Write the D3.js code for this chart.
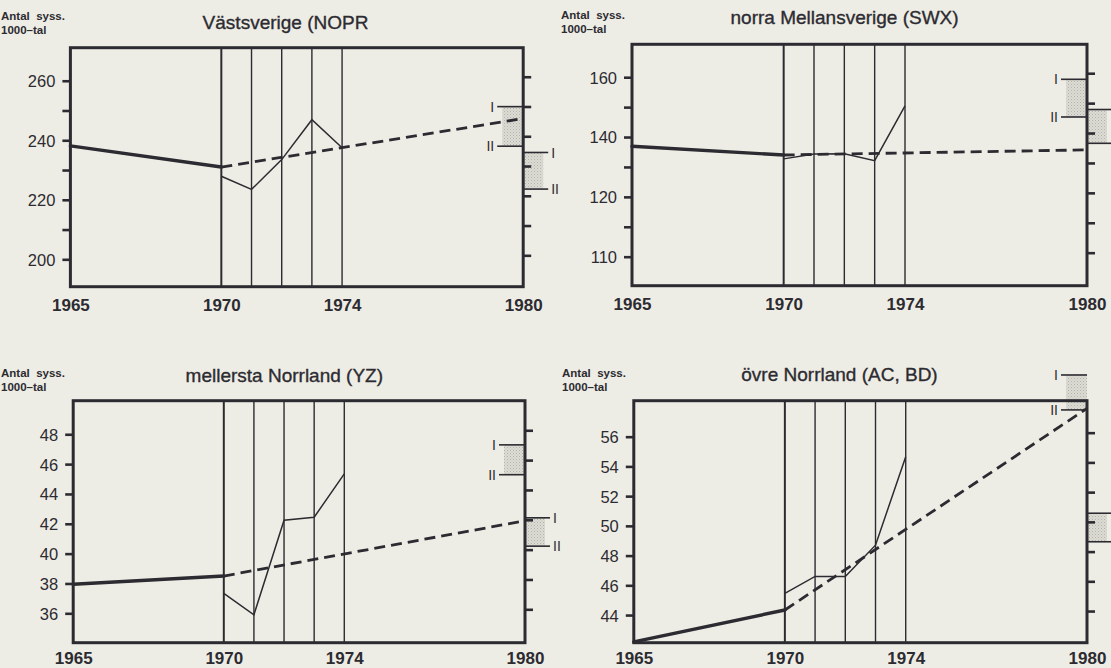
<!DOCTYPE html>
<html><head><meta charset="utf-8">
<script src="https://cdn.jsdelivr.net/npm/d3@7"></script>
<style>
html,body{margin:0;padding:0;background:#eeede5;}
svg{display:block;}
</style></head><body>
<svg id="chart" width="1111" height="668"></svg>
<script>
// ---------- DATA ----------
const regionTitles = ["Västsverige (NOPR", "norra Mellansverige (SWX)", "mellersta Norrland (YZ)", "övre Norrland (AC, BD)"];
const histYears = [1965, 1970];          // thick solid line
const projYears = [1970, 1980];          // dashed projection
const annualYears = [1970, 1971, 1972, 1973, 1974]; // thin line
const gridYears = [1970, 1971, 1972, 1973, 1974];
const xTickYears = [1965, 1970, 1974, 1980];
const unitLine1 = "Antal  syss.";
const unitLine2 = "1000–tal";

// Västsverige (NOPR)
const histNOPR = [238.1, 231.0];
const projNOPR = [231.0, 247.3];
const annualNOPR = [227.9, 223.5, 233.5, 246.9, 237.5];
const innerNOPR = [251.3, 238.0];   // I, II (left of right axis)
const outerNOPR = [235.9, 223.6];   // I, II (right of right axis)
const ticksNOPR = [200, 210, 220, 230, 240, 250, 260];
const labelValsNOPR = [200, 220, 240, 260];
const labelsNOPR = ["200", "220", "240", "260"];

// norra Mellansverige (SWX)
const histSWX = [136.9, 134.0];
const projSWX = [134.0, 135.7];
const annualSWX = [132.7, 134.3, 134.4, 132.1, 150.4];
const innerSWX = [159.3, 146.7];
const outerSWX = [149.2, 137.9];
const ticksSWX = [100, 110, 120, 130, 140, 150, 160];
const labelValsSWX = [100, 120, 140, 160];
const labelsSWX = ["110", "120", "140", "160"];

// mellersta Norrland (YZ)
const histYZ = [37.95, 38.5];
const projYZ = [38.5, 42.2];
const annualYZ = [37.33, 35.9, 42.24, 42.44, 45.35];
const innerYZ = [47.29, 45.29];
const outerYZ = [42.4, 40.5];
const ticksYZ = [36, 38, 40, 42, 44, 46, 48];
const labelValsYZ = [36, 38, 40, 42, 44, 46, 48];
const labelsYZ = ["36", "38", "40", "42", "44", "46", "48"];

// övre Norrland (AC, BD)
const histACBD = [42.2, 44.34];
const projACBD = [44.34, 57.9];
const annualACBD = [45.46, 46.6, 46.6, 48.7, 54.65];
const innerACBD = [60.15, 57.8];
const outerACBD = [50.85, 48.93];
const ticksACBD = [44, 46, 48, 50, 52, 54, 56];
const labelValsACBD = [44, 46, 48, 50, 52, 54, 56];
const labelsACBD = ["44", "46", "48", "50", "52", "54", "56"];

// ---------- LAYOUT ----------
const layouts = [
  {left: 70.4, right: 523.2, top: 47.7, bottom: 286.7, yMin: 190.8, yMax: 271.1, titleX: 285.5, titleY: 28.5, unitX: 1, unitY: 20, yearY: 311},
  {left: 632, right: 1087, top: 44.3, bottom: 285.7, yMin: 90.3, yMax: 171.0, titleX: 844.6, titleY: 24, unitX: 561, unitY: 19, yearY: 310},
  {left: 73.2, right: 525, top: 400.7, bottom: 642.7, yMin: 34.03, yMax: 50.25, titleX: 284.3, titleY: 381.5, unitX: 1, unitY: 377, yearY: 663.5},
  {left: 633.8, right: 1087, top: 400.7, bottom: 642.7, yMin: 42.14, yMax: 58.42, titleX: 839.5, titleY: 380.7, unitX: 562, unitY: 377, yearY: 663.5}
];

const panels = [
  {hist: histNOPR, proj: projNOPR, annual: annualNOPR, inner: innerNOPR, outer: outerNOPR, ticks: ticksNOPR, lv: labelValsNOPR, lt: labelsNOPR},
  {hist: histSWX, proj: projSWX, annual: annualSWX, inner: innerSWX, outer: outerSWX, ticks: ticksSWX, lv: labelValsSWX, lt: labelsSWX},
  {hist: histYZ, proj: projYZ, annual: annualYZ, inner: innerYZ, outer: outerYZ, ticks: ticksYZ, lv: labelValsYZ, lt: labelsYZ},
  {hist: histACBD, proj: projACBD, annual: annualACBD, inner: innerACBD, outer: outerACBD, ticks: ticksACBD, lv: labelValsACBD, lt: labelsACBD}
];

const INK = "#2c2b31";
const FONT = "'Liberation Sans', Arial, Helvetica, sans-serif";
const W = 1111;

const svg = d3.select("#chart");
const defs = svg.append("defs");
const pat = defs.append("pattern").attr("id", "stipple").attr("patternUnits", "userSpaceOnUse")
  .attr("width", 3).attr("height", 3);
pat.append("rect").attr("width", 3).attr("height", 3).attr("fill", "#dddcd4");
pat.append("rect").attr("x", 0).attr("y", 0).attr("width", 1).attr("height", 1).attr("fill", "#b4b3ab");
pat.append("rect").attr("x", 1.5).attr("y", 1.5).attr("width", 1).attr("height", 1).attr("fill", "#c2c1b9");

panels.forEach((p, i) => {
  const L = layouts[i];
  const x = d3.scaleLinear().domain([1965, 1980]).range([L.left, L.right]);
  const y = d3.scaleLinear().domain([L.yMin, L.yMax]).range([L.bottom, L.top]);
  const g = svg.append("g");

  // shaded alternative ranges (I–II)
  const innerTop = y(p.inner[0]), innerBot = y(p.inner[1]);
  g.append("rect").attr("x", L.right - 21).attr("y", innerTop).attr("width", 21)
    .attr("height", innerBot - innerTop).attr("fill", "url(#stipple)");
  const outerTop = y(p.outer[0]), outerBot = y(p.outer[1]);
  g.append("rect").attr("x", L.right).attr("y", outerTop).attr("width", 20)
    .attr("height", outerBot - outerTop).attr("fill", "url(#stipple)");

  // I / II marker lines and labels
  [["I", p.inner[0]], ["II", p.inner[1]]].forEach(([lab, v]) => {
    g.append("line").attr("x1", L.right - 26).attr("x2", L.right).attr("y1", y(v)).attr("y2", y(v))
      .attr("stroke", INK).attr("stroke-width", 1.6);
    g.append("text").attr("x", L.right - 29).attr("y", y(v)).attr("dy", "0.36em")
      .attr("text-anchor", "end").attr("font-family", FONT).attr("font-size", 14).attr("fill", INK).text(lab);
  });
  [["I", p.outer[0]], ["II", p.outer[1]]].forEach(([lab, v]) => {
    g.append("line").attr("x1", L.right).attr("x2", Math.min(L.right + 25, W)).attr("y1", y(v)).attr("y2", y(v))
      .attr("stroke", INK).attr("stroke-width", 1.6);
    if (L.right + 36 < W) {
      g.append("text").attr("x", L.right + 28).attr("y", y(v)).attr("dy", "0.36em")
        .attr("text-anchor", "start").attr("font-family", FONT).attr("font-size", 14).attr("fill", INK).text(lab);
    }
  });

  // vertical year lines
  g.selectAll("line.vy").data(gridYears).join("line").attr("class", "vy")
    .attr("x1", d => x(d)).attr("x2", d => x(d)).attr("y1", L.top).attr("y2", L.bottom)
    .attr("stroke", INK).attr("stroke-width", d => d === 1970 ? 2 : 1.4);

  // left axis
  const labelMap = new Map(p.lv.map((v, k) => [v, p.lt[k]]));
  const la = g.append("g").attr("transform", `translate(${L.left},0)`)
    .call(d3.axisLeft(y).tickValues(p.ticks).tickSize(8).tickPadding(7)
      .tickFormat(v => labelMap.has(v) ? labelMap.get(v) : ""));
  la.select(".domain").remove();
  la.selectAll("line").attr("stroke", INK).attr("stroke-width", 2.6);
  la.selectAll("text").attr("font-family", FONT).attr("font-size", 16.5).attr("fill", INK).attr("dy", "0.36em");

  // right axis
  const ra = g.append("g").attr("transform", `translate(${L.right},-4)`)
    .call(d3.axisRight(y).tickValues(p.ticks).tickSize(8).tickFormat(""));
  ra.select(".domain").remove();
  ra.selectAll("line").attr("stroke", INK).attr("stroke-width", 2.6);

  // frame
  g.append("rect").attr("x", L.left).attr("y", L.top).attr("width", L.right - L.left)
    .attr("height", L.bottom - L.top).attr("fill", "none").attr("stroke", INK).attr("stroke-width", 3);

  // x labels
  const xa = g.append("g").attr("transform", `translate(0,${L.yearY})`)
    .call(d3.axisBottom(x).tickValues(xTickYears).tickSize(0).tickPadding(0).tickFormat(d3.format("d")));
  xa.select(".domain").remove();
  xa.selectAll("text").attr("font-family", FONT).attr("font-size", 17).attr("font-weight", "bold")
    .attr("fill", INK).attr("dy", 0).attr("y", 0);

  // series
  const line = d3.line().x(d => x(d[0])).y(d => y(d[1]));
  g.append("path").datum(histYears.map((yr, k) => [yr, p.hist[k]])).attr("d", line)
    .attr("fill", "none").attr("stroke", INK).attr("stroke-width", 3.4).attr("stroke-linecap", "round");
  g.append("path").datum(projYears.map((yr, k) => [yr, p.proj[k]])).attr("d", line)
    .attr("fill", "none").attr("stroke", INK).attr("stroke-width", 2.8).attr("stroke-dasharray", "11,6");
  g.append("path").datum(annualYears.map((yr, k) => [yr, p.annual[k]])).attr("d", line)
    .attr("fill", "none").attr("stroke", INK).attr("stroke-width", 1.5);

  // title
  g.append("text").attr("x", L.titleX).attr("y", L.titleY).attr("text-anchor", "middle")
    .attr("font-family", FONT).attr("font-size", 19).attr("fill", INK)
    .attr("stroke", INK).attr("stroke-width", 0.35).text(regionTitles[i]);

  // unit label
  const ut = g.append("text").attr("font-family", FONT).attr("font-size", 11.5).attr("font-weight", "bold")
    .attr("fill", INK).attr("xml:space", "preserve");
  ut.append("tspan").attr("x", L.unitX).attr("y", L.unitY).text(unitLine1);
  ut.append("tspan").attr("x", L.unitX).attr("y", L.unitY + 14).text(unitLine2);
});
</script>
</body></html>
